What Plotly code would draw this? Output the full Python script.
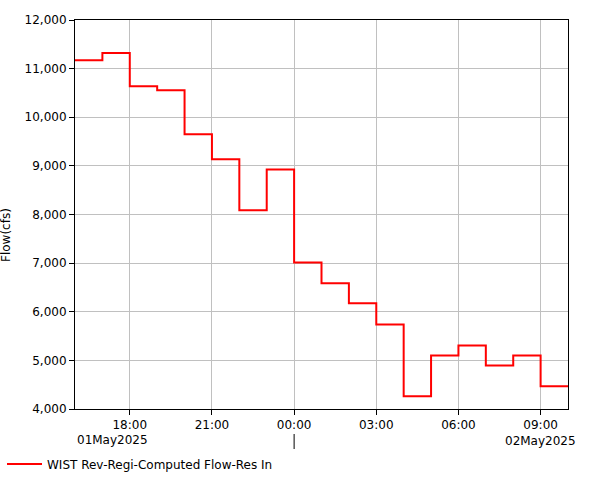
import plotly.graph_objects as go
import pandas as pd

# Hourly period values (cfs), periods starting 01May2025 16:00
period_start = "2025-05-01 16:00"
flow_cfs = [11170, 11320, 10635, 10555, 9648, 9134, 8088, 8925, 7014,
            6588, 6177, 5738, 4263, 5100, 5306, 4897, 5100, 4467]
series_name = "WIST Rev-Regi-Computed Flow-Res In"
y_label = "Flow(cfs)"
date_labels = ["01May2025", "02May2025"]

times = pd.date_range(period_start, periods=len(flow_cfs) + 1, freq="h")
y_vals = flow_cfs + [flow_cfs[-1]]

FONT = "DejaVu Sans"
L, R, T, B = 75, 33, 20, 71
W, H = 601, 480
PW, PH = W - L - R, H - T - B

fig = go.Figure()
fig.add_trace(go.Scatter(
    x=times, y=y_vals, mode="lines", line=dict(color="#ff0000", width=2, shape="hv"),
    name=series_name, showlegend=True,
))

x0 = times[0]
x1 = times[-1]
fig.update_layout(
    width=W, height=H,
    margin=dict(l=L, r=R, t=T, b=B, autoexpand=False),
    plot_bgcolor="white", paper_bgcolor="white",
    font=dict(family=FONT, size=12, color="black"),
    showlegend=True,
    legend=dict(orientation="h", xref="container", yref="container",
                x=2 / W, y=1 - 464 / H, xanchor="left", yanchor="middle",
                font=dict(family=FONT, size=12, color="black"),
                bgcolor="rgba(0,0,0,0)", itemwidth=35),
    xaxis=dict(
        type="date", range=[x0, x1], automargin=False,
        tick0="2025-05-01 00:00", dtick=3 * 3600 * 1000, tickformat="%H:%M",
        showgrid=True, gridcolor="#c0c0c0", gridwidth=1,
        showline=True, linecolor="black", linewidth=1, mirror=True,
        ticks="outside", ticklen=5, tickcolor="black",
        tickfont=dict(family=FONT, size=12), zeroline=False,
    ),
    yaxis=dict(
        range=[4000, 12000], dtick=1000, tickformat=",", automargin=False,
        showgrid=True, gridcolor="#c0c0c0", gridwidth=1,
        showline=True, linecolor="black", linewidth=1, mirror=True,
        ticks="outside", ticklen=5, tickcolor="black",
        tickfont=dict(family=FONT, size=12), zeroline=False,
    ),
)

# Y axis title placed to match reference
fig.add_annotation(x=(6 - L) / PW, y=(H - B - 235) / PH, xref="paper", yref="paper",
                   text=y_label, textangle=-90, showarrow=False,
                   xanchor="center", yanchor="middle", font=dict(family=FONT, size=12))
# Date labels under the time ticks
fig.add_annotation(x=x0, y=-(440 - (H - B)) / PH, xref="x", yref="paper", text=date_labels[0],
                   showarrow=False, xanchor="left", yanchor="middle",
                   font=dict(family=FONT, size=12))
fig.add_annotation(x="2025-05-02 09:00", y=-(441 - (H - B)) / PH, xref="x", yref="paper",
                   text=date_labels[1], showarrow=False, xanchor="center", yanchor="middle",
                   font=dict(family=FONT, size=12))
# Day separator mark
fig.add_shape(type="line", xref="x", yref="paper", x0="2025-05-02 00:00", x1="2025-05-02 00:00",
              y0=-(434 - (H - B)) / PH, y1=-(449 - (H - B)) / PH, line=dict(color="black", width=1))

fig.write_html("out.html", config={"displayModeBar": False},
               post_script="document.body.style.margin='0';")
